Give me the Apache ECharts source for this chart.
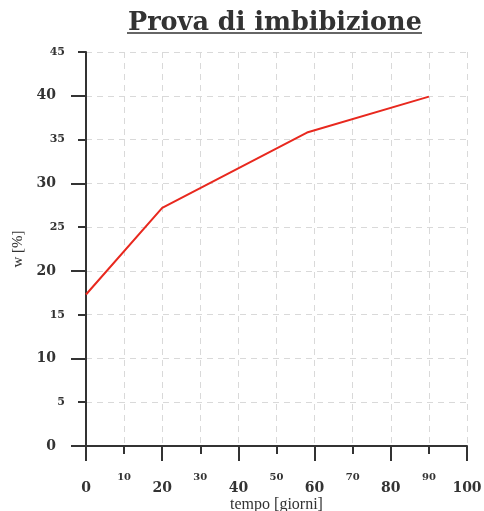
<!DOCTYPE html>
<html style="height: 100%">
<head>
    <meta charset="utf-8">
    <title>Prova di imbibizione</title>
    <script src="https://cdn.jsdelivr.net/npm/echarts@6/dist/echarts.min.js"></script>
</head>
<body style="margin: 0; height: 100%; background: #fff">
    <div id="main" style="width: 484px; height: 511px"></div>
    <script>
        // Dati
        const tempo = [0, 20, 58, 90];
        const umidita = [17.3, 27.2, 35.8, 39.9];

        // Etichette principali degli assi (le secondarie sono quelle restanti)
        const xPrincipali = [0, 20, 40, 60, 80, 100];
        const yPrincipali = [0, 10, 20, 30, 40];

        const chart = echarts.init(document.getElementById('main'));
        const scuro = '#333333';
        const fontNum = '"DejaVu Serif", serif';
        const griglia = { show: true, lineStyle: { color: '#d9d9d9', type: [6, 5], width: 1 } };

        chart.setOption({
            animation: false,
            title: {
                text: 'Prova di imbibizione',
                left: 123,
                top: 5,
                textStyle: { fontFamily: '"DejaVu Serif", serif', fontWeight: 'bold', fontSize: 25.5, color: scuro }
            },
            graphic: [{
                type: 'line',
                shape: { x1: 127, y1: 33, x2: 422, y2: 33 },
                style: { stroke: scuro, lineWidth: 1.5 }
            }],
            grid: { left: 86, right: 17, top: 52, bottom: 65, outerBoundsMode: 'none' },
            xAxis: [{
                type: 'value', min: 0, max: 100, interval: 20,
                name: 'tempo [giorni]',
                nameLocation: 'middle',
                nameGap: 51,
                nameMoveOverlap: false,
                nameTextStyle: { fontFamily: '"Liberation Serif", serif', fontSize: 16, color: scuro },
                axisLine: { show: true, onZero: false, lineStyle: { color: scuro, width: 2 } },
                axisTick: { show: true, length: 15, customValues: xPrincipali, lineStyle: { color: scuro, width: 2 } },
                axisLabel: { margin: 35, customValues: xPrincipali, fontFamily: fontNum, fontWeight: 'bold', fontSize: 14, color: scuro },
                splitLine: { show: false }
            }, {
                type: 'value', min: 0, max: 100, interval: 10,
                position: 'bottom',
                axisLine: { show: false, onZero: false },
                axisTick: { show: true, length: 8, lineStyle: { color: scuro, width: 2 } },
                axisLabel: {
                    margin: 26, fontFamily: fontNum, fontWeight: 'bold', fontSize: 10, color: scuro,
                    formatter: v => (xPrincipali.includes(v) ? '' : String(v))
                },
                splitLine: griglia
            }],
            yAxis: [{
                type: 'value', min: 0, max: 45, interval: 5,
                name: 'w [%]',
                nameLocation: 'middle',
                nameGap: 60,
                nameMoveOverlap: false,
                nameRotate: 90,
                nameTextStyle: { fontFamily: '"Liberation Serif", serif', fontSize: 15, color: scuro },
                axisLine: { show: true, onZero: false, lineStyle: { color: scuro, width: 2 } },
                axisTick: { show: true, length: 15, customValues: yPrincipali, lineStyle: { color: scuro, width: 2 } },
                axisLabel: { margin: 30, customValues: yPrincipali, fontFamily: fontNum, fontWeight: 'bold', fontSize: 14, color: scuro },
                splitLine: { show: false }
            }, {
                type: 'value', min: 0, max: 45, interval: 5,
                position: 'left',
                axisLine: { show: false, onZero: false },
                axisTick: { show: true, length: 8, lineStyle: { color: scuro, width: 2 } },
                axisLabel: {
                    margin: 21, fontFamily: fontNum, fontWeight: 'bold', fontSize: 11, color: scuro,
                    formatter: v => (yPrincipali.includes(v) ? '' : String(v))
                },
                splitLine: griglia
            }],
            series: [{
                type: 'line',
                xAxisIndex: 0,
                yAxisIndex: 0,
                data: tempo.map((t, i) => [t, umidita[i]]),
                showSymbol: false,
                lineStyle: { color: '#e8281e', width: 2 },
                z: 5
            }]
        });
    </script>
</body>
</html>
